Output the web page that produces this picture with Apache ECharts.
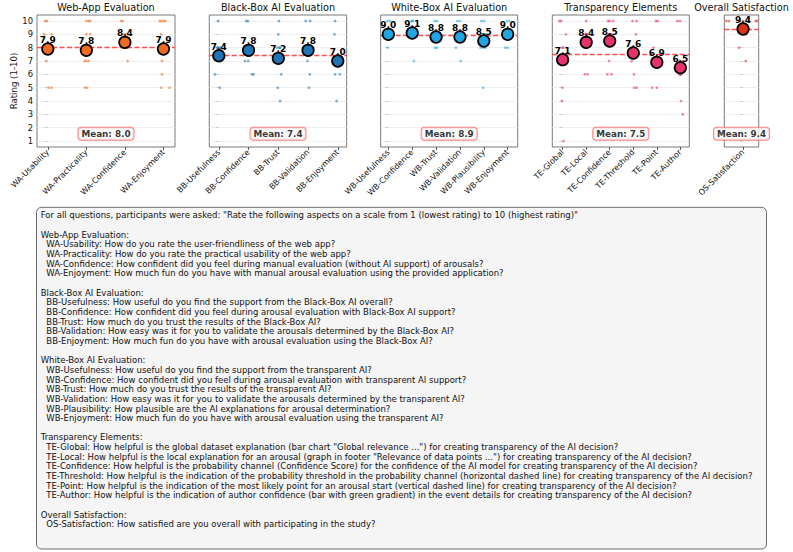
<!DOCTYPE html>
<html><head><meta charset="utf-8">
<script src="https://cdn.jsdelivr.net/npm/echarts@6/dist/echarts.min.js"></script>
<style>html,body{margin:0;padding:0;background:#fff}#c{width:793px;height:552px}</style>
</head><body><div id="c"></div>
<script>
// ---------------- DATA ----------------
const yTicks = [1,2,3,4,5,6,7,8,9,10];
const panelTitles = ['Web-App Evaluation','Black-Box AI Evaluation','White-Box AI Evaluation','Transparency Elements','Overall Satisfaction'];
const panelMeans = [8.0, 7.4, 8.9, 7.5, 9.4];

const waCategories = ['WA-Usability','WA-Practicality','WA-Confidence','WA-Enjoyment'];
const waMeans = [7.9, 7.8, 8.4, 7.9];
const waResponses = [
  [10,10,9,9,8,8,8,7,5,5],
  [10,10,10,9,9,7,7,7,5,5],
  [10,10,9,9,8,8,8,8,8,7],
  [10,10,10,10,9,8,7,6,5,5]
];
const waJitter = [
  [-0.07,-0.02,-0.1,0.1,0.03,-0.05,0.06,-0.04,0.02,0.1],
  [0,0.06,0.1,0,0.1,-0.05,0,0.06,-0.04,0.02],
  [-0.1,-0.06,0.02,-0.03,0.04,-0.02,0.07,-0.06,0.01,0.07],
  [-0.1,-0.05,0,0.05,-0.06,0.03,-0.04,-0.04,-0.06,0.16]
];

const bbCategories = ['BB-Usefulness','BB-Confidence','BB-Trust','BB-Validation','BB-Enjoyment'];
const bbMeans = [7.4, 7.8, 7.2, 7.8, 7.0];
const bbResponses = [
  [10,8,8,8,8,7,7,7,6,5],
  [10,10,8,8,8,8,7,7,6,6],
  [10,9,8,8,8,7,7,6,5,4],
  [10,10,8,8,8,8,8,7,6,5],
  [10,9,7,7,7,7,7,6,6,4]
];
const bbJitter = [
  [-0.02,0.06,-0.03,0.01,-0.06,0.03,-0.02,0.05,-0.13,0.03],
  [-0.08,-0.02,0.15,0.02,-0.04,0.05,-0.12,-0.01,0.11,0.17],
  [0.02,0,-0.04,0.03,0.06,-0.03,0.04,0.1,-0.02,0.06],
  [-0.08,0.07,0.17,0.02,-0.04,0.05,-0.02,-0.02,0.06,0.03],
  [-0.09,-0.11,0.02,-0.04,0.05,-0.01,0.03,-0.09,0.07,-0.04]
];

const wbCategories = ['WB-Usefulness','WB-Confidence','WB-Trust','WB-Validation','WB-Plausibility','WB-Enjoyment'];
const wbMeans = [9.0, 9.1, 8.8, 8.8, 8.5, 9.0];
const wbResponses = [
  [10,10,9,9,9,9,9,9,9,8],
  [10,10,10,9,9,9,9,9,9,7],
  [10,10,9,9,9,9,9,9,8,8],
  [10,10,9,9,9,9,9,9,8,7],
  [10,10,9,9,9,9,8,8,8,5],
  [10,10,9,9,9,9,9,9,8,8]
];
const wbJitter = [
  [-0.03,0.07,0,0.04,-0.04,0.02,-0.02,0.06,-0.06,-0.03],
  [-0.03,0.03,0.01,0.17,0.02,-0.03,0.05,-0.05,0,0.07],
  [-0.06,0.04,0.02,-0.03,0.05,-0.05,0.01,-0.01,-0.04,0.04],
  [-0.11,0,0.02,-0.03,0.05,-0.05,0.01,0.04,-0.17,0.03],
  [-0.1,0.01,0.02,-0.03,0.05,-0.05,-0.14,-0.03,0.08,-0.03],
  [-0.04,0.06,0.02,-0.03,0.05,-0.05,0.01,-0.01,-0.1,0]
];

const teCategories = ['TE-Global','TE-Local','TE-Confidence','TE-Threshold','TE-Point','TE-Author'];
const teMeans = [7.1, 8.4, 8.5, 7.6, 6.9, 6.5];
const teResponses = [
  [10,10,9,8,8,7,7,5,4,1],
  [10,9,9,9,9,8,8,8,6,6],
  [10,10,10,9,9,9,9,7,6,6],
  [10,10,9,8,8,8,7,6,5,5],
  [10,10,8,7,7,7,7,7,5,5],
  [10,10,7,7,6,6,6,6,4,3]
];
const teJitter = [
  [-0.14,-0.07,0.14,0.03,-0.02,0.02,-0.04,-0.01,-0.03,0.04],
  [0,0.02,-0.03,0.04,-0.01,-0.07,0.04,0.01,-0.06,0.06],
  [-0.07,0,0.14,0.03,-0.02,0.04,-0.04,-0.03,-0.1,0.07],
  [-0.03,0.14,0.11,-0.02,0.03,0.01,-0.07,0.03,0.04,0.14],
  [-0.04,0.04,-0.14,-0.11,0.02,-0.03,0.05,0.01,-0.2,0],
  [-0.13,-0.01,0.13,-0.02,0.03,-0.04,0.02,-0.01,0.03,0.1]
];

const osCategories = ['OS-Satisfaction'];
const osMeans = [9.4];
const osResponses = [
  [10,10,10,10,10,10,10,9,8,7]
];
const osJitter = [
  [-0.107,-0.09,0.081,0.09,-0.02,0.03,0,0.02,-0.026,0.017]
];

const questionLines = [
  'For all questions, participants were asked: "Rate the following aspects on a scale from 1 (lowest rating) to 10 (highest rating)"',
  '',
  'Web-App Evaluation:',
  '  WA-Usability: How do you rate the user-friendliness of the web app?',
  '  WA-Practicality: How do you rate the practical usability of the web app?',
  '  WA-Confidence: How confident did you feel during manual evaluation (without AI support) of arousals?',
  '  WA-Enjoyment: How much fun do you have with manual arousal evaluation using the provided application?',
  '',
  'Black-Box AI Evaluation:',
  '  BB-Usefulness: How useful do you find the support from the Black-Box AI overall?',
  '  BB-Confidence: How confident did you feel during arousal evaluation with Black-Box AI support?',
  '  BB-Trust: How much do you trust the results of the Black-Box AI?',
  '  BB-Validation: How easy was it for you to validate the arousals determined by the Black-Box AI?',
  '  BB-Enjoyment: How much fun do you have with arousal evaluation using the Black-Box AI?',
  '',
  'White-Box AI Evaluation:',
  '  WB-Usefulness: How useful do you find the support from the transparent AI?',
  '  WB-Confidence: How confident did you feel during arousal evaluation with transparent AI support?',
  '  WB-Trust: How much do you trust the results of the transparent AI?',
  '  WB-Validation: How easy was it for you to validate the arousals determined by the transparent AI?',
  '  WB-Plausibility: How plausible are the AI explanations for arousal determination?',
  '  WB-Enjoyment: How much fun do you have with arousal evaluation using the transparent AI?',
  '',
  'Transparency Elements:',
  '  TE-Global: How helpful is the global dataset explanation (bar chart "Global relevance ...") for creating transparency of the AI decision?',
  '  TE-Local: How helpful is the local explanation for an arousal (graph in footer "Relevance of data points ...") for creating transparency of the AI decision?',
  '  TE-Confidence: How helpful is the probability channel (Confidence Score) for the confidence of the AI model for creating transparency of the AI decision?',
  '  TE-Threshold: How helpful is the indication of the probability threshold in the probability channel (horizontal dashed line) for creating transparency of the AI decision?',
  '  TE-Point: How helpful is the indication of the most likely point for an arousal start (vertical dashed line) for creating transparency of the AI decision?',
  '  TE-Author: How helpful is the indication of author confidence (bar with green gradient) in the event details for creating transparency of the AI decision?',
  '',
  'Overall Satisfaction:',
  '  OS-Satisfaction: How satisfied are you overall with participating in the study?'
];

// ---------------- LAYOUT / STYLE ----------------
const FONT = '"DejaVu Sans", Verdana, sans-serif';
const panels = [
  {cats: waCategories, means: waMeans, resp: waResponses, jit: waJitter},
  {cats: bbCategories, means: bbMeans, resp: bbResponses, jit: bbJitter},
  {cats: wbCategories, means: wbMeans, resp: wbResponses, jit: wbJitter},
  {cats: teCategories, means: teMeans, resp: teResponses, jit: teJitter},
  {cats: osCategories, means: osMeans, resp: osResponses, jit: osJitter}
];
const layout = [
  {left: 37,    width: 138,   xMin: -0.28, xMax: 3.3,  color: '#f26b21'},
  {left: 209.3, width: 137.4, xMin: -0.32, xMax: 4.3,  color: '#1f74b6'},
  {left: 380.7, width: 137,   xMin: -0.32, xMax: 5.42, color: '#22a5e3'},
  {left: 552.3, width: 137,   xMin: -0.44, xMax: 5.38, color: '#e6336b'},
  {left: 724.3, width: 34.4,  xMin: -0.12, xMax: 0.1,  color: '#dc3217'}
];
const TOP = 15, HEIGHT = 132, YMIN = 0.55, YMAX = 10.45;

const grids = [], xAxes = [], yAxes = [], series = [], graphics = [];
panels.forEach((p, i) => {
  const L = layout[i];
  const catIdx = p.cats.map((_, k) => k);
  grids.push({left: L.left, top: TOP, width: L.width, height: HEIGHT, show: true,
    borderColor: '#555', borderWidth: 0.8, backgroundColor: 'transparent'});
  xAxes.push({type: 'value', gridIndex: i, min: L.xMin, max: L.xMax,
    axisLine: {show: false}, splitLine: {show: false},
    axisTick: {show: true, customValues: catIdx, length: 3, lineStyle: {color: '#333', width: 0.8}},
    axisLabel: {customValues: catIdx, formatter: v => p.cats[Math.round(v)] || '', rotate: 45,
      fontSize: 8, fontFamily: FONT, color: '#111', margin: 4, hideOverlap: false}});
  yAxes.push({type: 'value', gridIndex: i, min: YMIN, max: YMAX,
    axisLine: {show: false}, splitLine: {show: false},
    axisTick: {show: true, customValues: yTicks, length: 3, lineStyle: {color: '#333', width: 0.8}},
    axisLabel: {show: i === 0, customValues: yTicks, fontSize: 8.4, fontFamily: FONT, color: '#111', margin: 4},
    name: i === 0 ? 'Rating (1-10)' : '', nameLocation: 'middle', nameRotate: 90, nameGap: 17,
    nameTextStyle: {fontSize: 8.6, fontFamily: FONT, color: '#111'}});

  const pts = [];
  p.resp.forEach((arr, k) => arr.forEach((v, j) => pts.push([k + p.jit[k][j], v])));
  series.push({type: 'scatter', xAxisIndex: i, yAxisIndex: i, data: pts, symbolSize: 2.8, z: 2, silent: true,
    itemStyle: {color: L.color, opacity: 0.55},
    markLine: {silent: true, z: 1, symbol: ['none', 'none'], label: {show: false}, animation: false,
      lineStyle: {color: '#ebebeb', type: 'solid', width: 0.8},
      data: yTicks.map(v => ({yAxis: v}))}});
  series.push({type: 'scatter', xAxisIndex: i, yAxisIndex: i, z: 4, silent: true,
    data: p.means.map((m, k) => [k, m]), symbolSize: 11.5,
    itemStyle: {color: L.color, borderColor: '#000', borderWidth: 1.7, opacity: 1},
    label: {show: true, position: 'inside', offset: [0, -9], formatter: d => d.value[1].toFixed(1),
      fontSize: 9, fontWeight: 'bold', fontFamily: FONT, color: '#000'},
    markLine: {silent: true, z: 3, symbol: ['none', 'none'], label: {show: false}, animation: false,
      lineStyle: {color: '#ff3b3b', type: [5, 2.5], width: 1.4, opacity: 0.9},
      data: [{yAxis: panelMeans[i]}]}});
  series.push({type: 'scatter', xAxisIndex: i, yAxisIndex: i, z: 6, silent: true,
    data: [[(L.xMin + L.xMax) / 2, YMIN + 0.1 * (YMAX - YMIN)]], symbolSize: 0,
    label: {show: true, position: 'inside', formatter: 'Mean: ' + panelMeans[i].toFixed(1),
      fontSize: 8.8, fontWeight: 'bold', fontFamily: FONT, color: '#000',
      backgroundColor: '#f8f8f8', borderColor: '#ff6464', borderWidth: 1, borderRadius: 3,
      padding: [2, 3, 1, 3]}});

  graphics.push({type: 'text', silent: true, style: {text: panelTitles[i], x: L.left + L.width / 2, y: 7.5,
    align: 'center', verticalAlign: 'middle', textAlign: 'center', textVerticalAlign: 'middle',
    font: '9.7px ' + FONT, fill: '#111'}});
});

// text box
graphics.push({type: 'rect', silent: true, z: 0, shape: {x: 36.5, y: 207.3, width: 730, height: 341.7, r: 5},
  style: {fill: '#f5f5f5', stroke: '#6b6b6b', lineWidth: 1}});
questionLines.forEach((line, k) => {
  if (!line) return;
  const indent = line.startsWith('  ');
  graphics.push({type: 'text', silent: true, z: 1, style: {text: line.trim(), x: indent ? 46.3 : 40.7, y: 215.3 + k * 9.66,
    align: 'left', verticalAlign: 'middle', textAlign: 'left', textVerticalAlign: 'middle',
    font: '8.5px ' + FONT, fill: '#111'}});
});

const chart = echarts.init(document.getElementById('c'), null, {renderer: 'svg', width: 793, height: 552});
chart.setOption({animation: false, grid: grids, xAxis: xAxes, yAxis: yAxes, series: series, graphic: graphics});
</script></body></html>
